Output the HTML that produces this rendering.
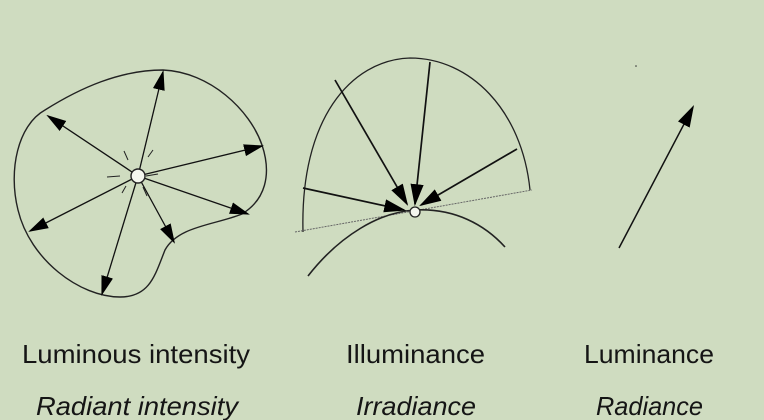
<!DOCTYPE html>
<html><head><meta charset="utf-8"><style>
html,body{margin:0;padding:0;background:#cfdcc0;}
svg{display:block}
text{font-family:"Liberation Sans",sans-serif;fill:#151515;font-size:26px}
</style></head><body>
<svg width="764" height="420" viewBox="0 0 764 420">
<defs>
<marker id="ah" viewBox="0 0 10 10" refX="9" refY="5" markerWidth="20" markerHeight="20" markerUnits="userSpaceOnUse" orient="auto"><path d="M0,2 L10,5 L0,8 z" fill="#000"/></marker>
<marker id="ahb" viewBox="0 0 10 10" refX="9" refY="5" markerWidth="22" markerHeight="22" markerUnits="userSpaceOnUse" orient="auto"><path d="M0,2 L10,5 L0,8 z" fill="#000"/></marker>
</defs>
<g stroke="#222" fill="none" stroke-width="1.4">
<path d="M163,70 C210,72 250,110 262,145 C272,175 265,200 242,214 C215,225 178,226 165,250 C155,275 150,297 120,297 C80,297 30,260 18,210 C8,170 18,125 45,110 C80,88 120,70 163,70 Z"/>
<g stroke="#111" stroke-width="1.3">
<line x1="138" y1="176" x2="163" y2="72" marker-end="url(#ah)"/>
<line x1="138" y1="176" x2="48" y2="116" marker-end="url(#ah)"/>
<line x1="138" y1="176" x2="262" y2="146" marker-end="url(#ah)"/>
<line x1="138" y1="176" x2="248" y2="214" marker-end="url(#ah)"/>
<line x1="138" y1="176" x2="174" y2="242" marker-end="url(#ah)"/>
<line x1="138" y1="176" x2="102" y2="294" marker-end="url(#ah)"/>
<line x1="138" y1="176" x2="30" y2="231" marker-end="url(#ah)"/>
</g>
<g stroke-width="1"><line x1="124" y1="151" x2="128" y2="160"/><line x1="148" y1="157" x2="153" y2="150"/><line x1="107" y1="177" x2="120" y2="176"/><line x1="146" y1="176" x2="158" y2="174"/><line x1="122" y1="193" x2="126" y2="186"/><line x1="143" y1="187" x2="147" y2="196"/></g>
<circle cx="138" cy="176" r="7" fill="#f4f6ee"/>
</g>
<g fill="none" stroke="#222">
<path d="M303,232 C300,120 350,60 410,58 C470,58 522,110 530,190" stroke-width="1.3"/>
<line x1="295" y1="232" x2="532" y2="190" stroke="#666" stroke-width="1" stroke-dasharray="2,1"/>
<path d="M308,276 C340,235 380,212 415,210 C455,208 485,225 505,247" stroke-width="1.6"/>
<g stroke="#111" stroke-width="1.7">
<line x1="335" y1="80" x2="407" y2="204" marker-end="url(#ahb)"/>
<line x1="430" y1="62" x2="415" y2="204" marker-end="url(#ahb)"/>
<line x1="517" y1="149" x2="421" y2="205" marker-end="url(#ahb)"/>
<line x1="303" y1="188" x2="404" y2="210" marker-end="url(#ahb)"/>
</g>
<circle cx="415" cy="212" r="5" fill="#f4f6ee" stroke-width="1.3"/>
</g>
<g>
<line x1="619" y1="248" x2="693" y2="107" stroke="#111" stroke-width="1.5" marker-end="url(#ahb)"/>
<circle cx="636" cy="66" r="0.8" fill="#333"/>
</g>
<text x="22" y="363" textLength="228" lengthAdjust="spacingAndGlyphs">Luminous intensity</text>
<text x="346" y="363" textLength="139" lengthAdjust="spacingAndGlyphs">Illuminance</text>
<text x="584" y="363" textLength="130" lengthAdjust="spacingAndGlyphs">Luminance</text>
<text x="36" y="415" font-style="italic" textLength="202" lengthAdjust="spacingAndGlyphs">Radiant intensity</text>
<text x="356" y="415" font-style="italic" textLength="120" lengthAdjust="spacingAndGlyphs">Irradiance</text>
<text x="596" y="415" font-style="italic" textLength="107" lengthAdjust="spacingAndGlyphs">Radiance</text>
</svg>
</body></html>
